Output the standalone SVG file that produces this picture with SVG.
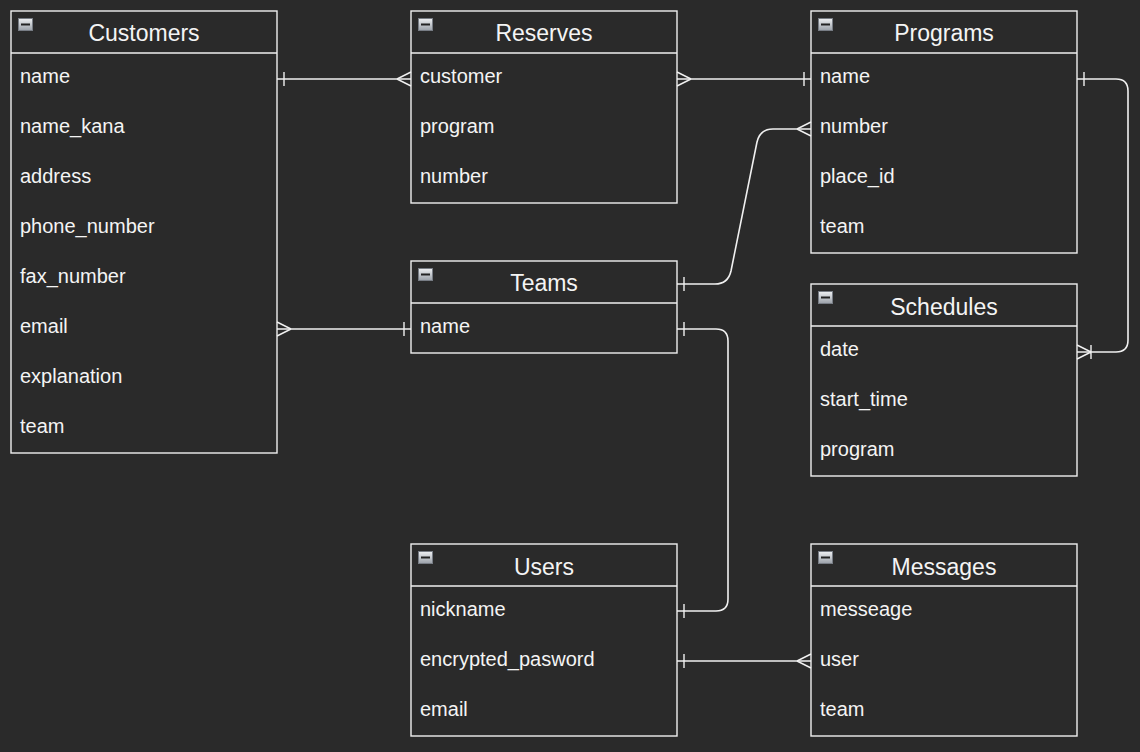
<svg xmlns="http://www.w3.org/2000/svg" width="1140" height="752" viewBox="0 0 1140 752">
<style>
.box{fill:#2a2a2a;stroke:#f0f0f0;stroke-width:1.4}
.hd{font-family:"Liberation Sans",Arial,sans-serif;font-size:23px;fill:#f4f4f4;text-anchor:middle}
.rw{font-family:"Liberation Sans",Arial,sans-serif;font-size:20px;fill:#f4f4f4}
.ln{fill:none;stroke:#f0f0f0;stroke-width:1.6}
.mk{fill:none;stroke:#f0f0f0;stroke-width:1.4}
</style>
<defs>
<linearGradient id="ig" x1="0" y1="0" x2="0" y2="1">
<stop offset="0" stop-color="#eef0f2"/>
<stop offset="1" stop-color="#9aa0a8"/>
</linearGradient>
<g id="icon">
<rect x="0.5" y="0.5" width="14" height="12" fill="url(#ig)" stroke="#777c84" stroke-width="1"/>
<rect x="3" y="5.5" width="9" height="2" fill="#222"/>
</g>
</defs>
<rect width="1140" height="752" fill="#2a2a2a"/>

<g id="customers">
<rect class="box" x="11" y="11" width="266" height="442"/>
<line class="box" x1="11" y1="53" x2="277" y2="53"/>
<use href="#icon" x="18" y="18"/>
<text class="hd" x="144" y="41">Customers</text>
<text class="rw" x="20" y="83">name</text>
<text class="rw" x="20" y="133">name_kana</text>
<text class="rw" x="20" y="183">address</text>
<text class="rw" x="20" y="233">phone_number</text>
<text class="rw" x="20" y="283">fax_number</text>
<text class="rw" x="20" y="333">email</text>
<text class="rw" x="20" y="383">explanation</text>
<text class="rw" x="20" y="433">team</text>
</g>

<g id="reserves">
<rect class="box" x="411" y="11" width="266" height="192"/>
<line class="box" x1="411" y1="53" x2="677" y2="53"/>
<use href="#icon" x="418" y="18"/>
<text class="hd" x="544" y="41">Reserves</text>
<text class="rw" x="420" y="83">customer</text>
<text class="rw" x="420" y="133">program</text>
<text class="rw" x="420" y="183">number</text>
</g>

<g id="programs">
<rect class="box" x="811" y="11" width="266" height="242"/>
<line class="box" x1="811" y1="53" x2="1077" y2="53"/>
<use href="#icon" x="818" y="18"/>
<text class="hd" x="944" y="41">Programs</text>
<text class="rw" x="820" y="83">name</text>
<text class="rw" x="820" y="133">number</text>
<text class="rw" x="820" y="183">place_id</text>
<text class="rw" x="820" y="233">team</text>
</g>

<g id="teams">
<rect class="box" x="411" y="261" width="266" height="92"/>
<line class="box" x1="411" y1="303" x2="677" y2="303"/>
<use href="#icon" x="418" y="268"/>
<text class="hd" x="544" y="291">Teams</text>
<text class="rw" x="420" y="333">name</text>
</g>

<g id="schedules">
<rect class="box" x="811" y="284" width="266" height="192"/>
<line class="box" x1="811" y1="326" x2="1077" y2="326"/>
<use href="#icon" x="818" y="291"/>
<text class="hd" x="944" y="315">Schedules</text>
<text class="rw" x="820" y="356">date</text>
<text class="rw" x="820" y="406">start_time</text>
<text class="rw" x="820" y="456">program</text>
</g>

<g id="users">
<rect class="box" x="411" y="544" width="266" height="192"/>
<line class="box" x1="411" y1="586" x2="677" y2="586"/>
<use href="#icon" x="418" y="551"/>
<text class="hd" x="544" y="575">Users</text>
<text class="rw" x="420" y="616">nickname</text>
<text class="rw" x="420" y="666">encrypted_pasword</text>
<text class="rw" x="420" y="716">email</text>
</g>

<g id="messages">
<rect class="box" x="811" y="544" width="266" height="192"/>
<line class="box" x1="811" y1="586" x2="1077" y2="586"/>
<use href="#icon" x="818" y="551"/>
<text class="hd" x="944" y="575">Messages</text>
<text class="rw" x="820" y="616">messeage</text>
<text class="rw" x="820" y="666">user</text>
<text class="rw" x="820" y="716">team</text>
</g>

<g id="connectors">
<path class="ln" d="M277,79 L411,79"/>
<path class="mk" d="M284,72 L284,86 M397,79 L411,72 M397,79 L411,86"/>
<path class="ln" d="M677,79 L811,79"/>
<path class="mk" d="M691,79 L677,72 M691,79 L677,86 M804,72 L804,86"/>
<path class="ln" d="M811,129 L773,129 Q760,129 757,142 L731,271 Q728,284 715,284 L677,284"/>
<path class="mk" d="M797,129 L811,122 M797,129 L811,136 M684,277 L684,291"/>
<path class="ln" d="M677,329 L716,329 Q728,329 728,341 L728,599 Q728,611 716,611 L677,611"/>
<path class="mk" d="M684,322 L684,336 M684,604 L684,618"/>
<path class="ln" d="M1077,79 L1116,79 Q1128,79 1128,91 L1128,340 Q1128,352 1116,352 L1077,352"/>
<path class="mk" d="M1084,72 L1084,86 M1091,352 L1077,345 M1091,352 L1077,359 M1091,345 L1091,359"/>
<path class="ln" d="M277,329 L411,329"/>
<path class="mk" d="M291,329 L277,322 M291,329 L277,336 M404,322 L404,336"/>
<path class="ln" d="M677,661 L811,661"/>
<path class="mk" d="M684,654 L684,668 M797,661 L811,654 M797,661 L811,668"/>
</g>
</svg>
